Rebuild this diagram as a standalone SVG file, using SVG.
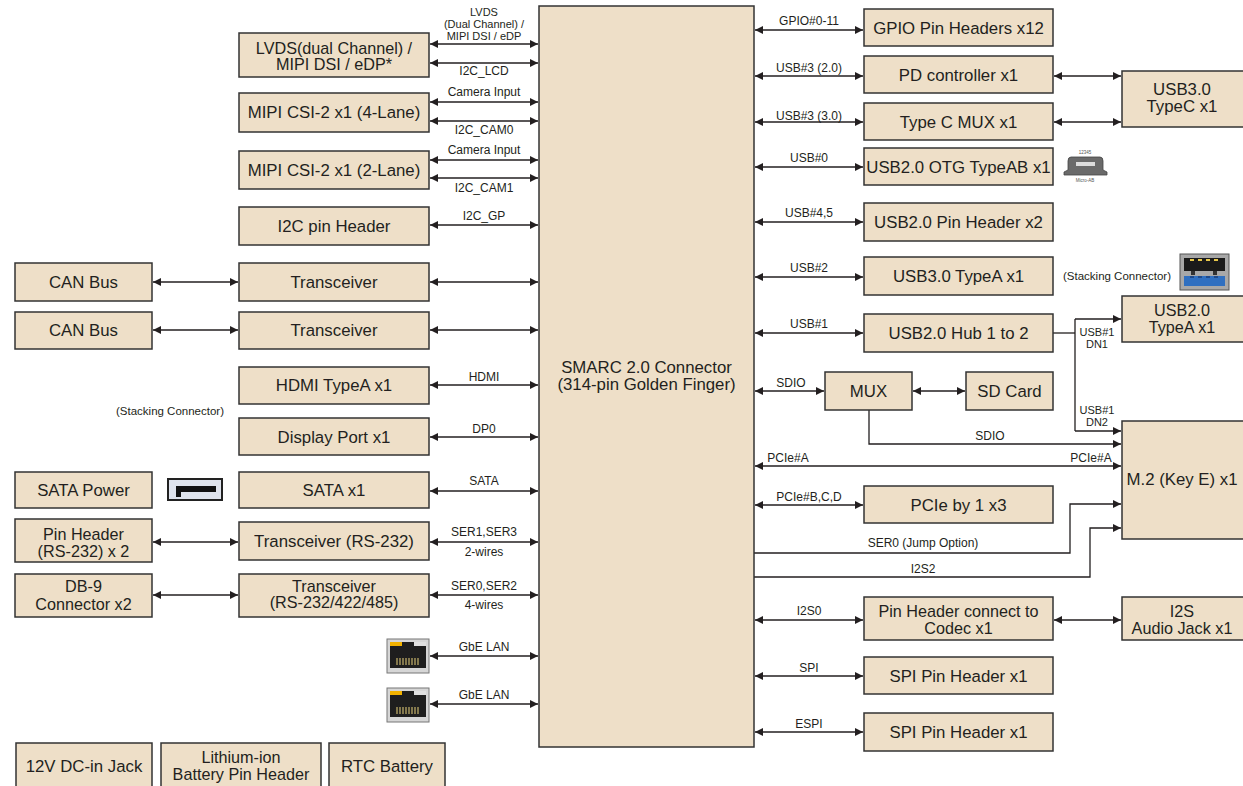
<svg xmlns="http://www.w3.org/2000/svg" width="1243" height="786" viewBox="0 0 1243 786">
<style>
.box{fill:#eedfc8;stroke:#333;stroke-width:1.5}
text{font-family:"Liberation Sans",Arial,sans-serif;fill:#231f20;text-anchor:middle}
.t{font-size:16.8px}
.t2{font-size:16.2px}
.s{font-size:12px}
.s2{font-size:11px}
.c{stroke:#231f20;stroke-width:1.3;fill:none}
.bi{marker-start:url(#a);marker-end:url(#a)}
.uni{marker-end:url(#a)}
</style>
<defs>
<marker id="a" viewBox="0 0 10 10" refX="10" refY="5" markerWidth="9" markerHeight="8" markerUnits="userSpaceOnUse" orient="auto-start-reverse"><path d="M0,0 L10,5 L0,10 Z" fill="#231f20"/></marker>
<g id="rj45">
<rect x="0" y="0" width="42" height="34" fill="#d6d6d6" stroke="#777" stroke-width="1"/>
<rect x="3" y="3" width="36" height="26" fill="#1e1e1e"/>
<rect x="3" y="3" width="12" height="4" fill="#f2b200"/>
<rect x="27" y="3" width="12" height="4" fill="#e0e0e0"/>
<path d="M10,19V26M13,19V26M16,19V26M19,19V26M22,19V26M25,19V26M28,19V26M31,19V26" stroke="#e6d07a" stroke-width="1"/>
</g>
</defs>
<rect width="1243" height="786" fill="#fff"/>

<g id="connectors">
<path class="c bi" d="M430,44H538"/>
<path class="c bi" d="M430,63H538"/>
<path class="c bi" d="M430,102H538"/>
<path class="c bi" d="M430,121H538"/>
<path class="c bi" d="M430,160H538"/>
<path class="c bi" d="M430,178H538"/>
<path class="c bi" d="M430,225H538"/>
<path class="c bi" d="M153,282H238"/>
<path class="c bi" d="M430,282H538"/>
<path class="c bi" d="M153,330H238"/>
<path class="c bi" d="M430,330H538"/>
<path class="c bi" d="M430,385H538"/>
<path class="c bi" d="M430,437H538"/>
<path class="c bi" d="M430,491H538"/>
<path class="c bi" d="M153,542H238"/>
<path class="c bi" d="M430,542H538"/>
<path class="c bi" d="M153,595H238"/>
<path class="c bi" d="M430,595H538"/>
<path class="c bi" d="M430,656H538"/>
<path class="c bi" d="M430,704H538"/>

<path class="c bi" d="M755,30H863"/>
<path class="c bi" d="M755,76H863"/>
<path class="c bi" d="M755,122H863"/>
<path class="c bi" d="M755,167H863"/>
<path class="c bi" d="M755,222H863"/>
<path class="c bi" d="M755,277H863"/>
<path class="c bi" d="M755,333H863"/>
<path class="c bi" d="M755,391H824"/>
<path class="c bi" d="M913,391H965"/>
<path class="c bi" d="M1054,76H1121"/>
<path class="c bi" d="M1054,122H1121"/>
<path class="c" d="M1053,333H1075"/>
<path class="c" d="M1075,319V431"/>
<path class="c uni" d="M1075,319H1121"/>
<path class="c uni" d="M1075,431H1121"/>
<path class="c uni" d="M869,410V444H1121"/>
<path class="c bi" d="M755,466H1121"/>
<path class="c bi" d="M755,505H863"/>
<path class="c uni" d="M754,553H1070V504H1121"/>
<path class="c uni" d="M754,577H1090V528H1121"/>
<path class="c bi" d="M755,620H863"/>
<path class="c bi" d="M1054,620H1121"/>
<path class="c bi" d="M755,676H863"/>
<path class="c bi" d="M755,732H863"/>

<text class="s s2" x="484" y="16">LVDS</text>
<text class="s s2" x="484" y="28">(Dual Channel) /</text>
<text class="s s2" x="484" y="40">MIPI DSI / eDP</text>
<text class="s" x="484" y="75">I2C_LCD</text>
<text class="s" x="484" y="96">Camera Input</text>
<text class="s" x="484" y="134">I2C_CAM0</text>
<text class="s" x="484" y="154">Camera Input</text>
<text class="s" x="484" y="192">I2C_CAM1</text>
<text class="s" x="484" y="220">I2C_GP</text>
<text class="s" x="484" y="381">HDMI</text>
<text class="s" x="484" y="433">DP0</text>
<text class="s" x="484" y="485">SATA</text>
<text class="s" x="484" y="536">SER1,SER3</text>
<text class="s" x="484" y="556">2-wires</text>
<text class="s" x="484" y="590">SER0,SER2</text>
<text class="s" x="484" y="609">4-wires</text>
<text class="s" x="484" y="651">GbE LAN</text>
<text class="s" x="484" y="699">GbE LAN</text>

<text class="s" x="809" y="25">GPIO#0-11</text>
<text class="s" x="809" y="72">USB#3 (2.0)</text>
<text class="s" x="809" y="120">USB#3 (3.0)</text>
<text class="s" x="809" y="162">USB#0</text>
<text class="s" x="809" y="217">USB#4,5</text>
<text class="s" x="809" y="272">USB#2</text>
<text class="s" x="809" y="328">USB#1</text>
<text class="s" x="791" y="387">SDIO</text>
<text class="s s2" x="1097" y="336">USB#1</text>
<text class="s s2" x="1097" y="348">DN1</text>
<text class="s s2" x="1097" y="414">USB#1</text>
<text class="s s2" x="1097" y="426">DN2</text>
<text class="s" x="990" y="440">SDIO</text>
<text class="s" x="788" y="462">PCIe#A</text>
<text class="s" x="1091" y="462">PCIe#A</text>
<text class="s" x="809" y="501">PCIe#B,C,D</text>
<text class="s" x="923" y="547">SER0 (Jump Option)</text>
<text class="s" x="923" y="573">I2S2</text>
<text class="s" x="809" y="615">I2S0</text>
<text class="s" x="809" y="672">SPI</text>
<text class="s" x="809" y="728">ESPI</text>
</g>

<g id="smarc"><rect class="box" x="539" y="6" width="215" height="741"/><text class="t" x="646.5" y="373">SMARC 2.0 Connector</text><text class="t" x="646.5" y="390">(314-pin Golden Finger)</text></g>

<g id="lvds"><rect class="box" x="239" y="33" width="190" height="44"/><text class="t t2" x="334" y="53.5">LVDS(dual Channel) /</text><text class="t t2" x="334" y="70">MIPI DSI / eDP*</text></g>
<g id="csi4"><rect class="box" x="239" y="93" width="190" height="39"/><text class="t" x="334" y="118">MIPI CSI-2 x1 (4-Lane)</text></g>
<g id="csi2"><rect class="box" x="239" y="151" width="190" height="38"/><text class="t" x="334" y="176">MIPI CSI-2 x1 (2-Lane)</text></g>
<g id="i2c"><rect class="box" x="239" y="207" width="190" height="38"/><text class="t" x="334" y="232">I2C pin Header</text></g>
<g id="trans1"><rect class="box" x="239" y="263" width="190" height="38"/><text class="t" x="334" y="288">Transceiver</text></g>
<g id="trans2"><rect class="box" x="239" y="312" width="190" height="37"/><text class="t" x="334" y="336">Transceiver</text></g>
<g id="hdmi"><rect class="box" x="239" y="367" width="190" height="37"/><text class="t" x="334" y="391">HDMI TypeA x1</text></g>
<text class="s" x="170" y="415" style="font-size:11.5px">(Stacking Connector)</text>
<g id="dp"><rect class="box" x="239" y="418" width="190" height="37"/><text class="t" x="334" y="443">Display Port x1</text></g>
<g id="sata"><rect class="box" x="239" y="472" width="190" height="36"/><text class="t" x="334" y="496">SATA x1</text></g>
<g id="rs232"><rect class="box" x="239" y="522" width="190" height="38"/><text class="t" x="334" y="547">Transceiver (RS-232)</text></g>
<g id="rs485"><rect class="box" x="239" y="574" width="190" height="43"/><text class="t t2" x="334" y="591.5">Transceiver</text><text class="t t2" x="334" y="608">(RS-232/422/485)</text></g>

<g id="can1"><rect class="box" x="15" y="263" width="137" height="38"/><text class="t" x="83.5" y="288">CAN Bus</text></g>
<g id="can2"><rect class="box" x="15" y="312" width="137" height="37"/><text class="t" x="83.5" y="336">CAN Bus</text></g>
<g id="satapower"><rect class="box" x="15" y="472" width="137" height="36"/><text class="t" x="83.5" y="496">SATA Power</text></g>
<g id="sataicon"><rect x="168" y="479" width="54" height="21" fill="#dfe3ec" stroke="#222" stroke-width="2"/><path d="M176,486H216V492H181V497H176Z" fill="#111"/></g>
<g id="pinheader"><rect class="box" x="15" y="519" width="137" height="43"/><text class="t t2" x="83.5" y="539.5">Pin Header</text><text class="t t2" x="83.5" y="557">(RS-232) x 2</text></g>
<g id="db9"><rect class="box" x="15" y="574" width="137" height="43"/><text class="t t2" x="83.5" y="591.5">DB-9</text><text class="t t2" x="83.5" y="610">Connector x2</text></g>

<g id="lan1"><use href="#rj45" x="387" y="639"/></g>
<g id="lan2"><use href="#rj45" x="387" y="688"/></g>

<g id="dcjack"><rect class="box" x="16" y="743" width="136" height="60"/><text class="t" x="84" y="772">12V DC-in Jack</text></g>
<g id="lithium"><rect class="box" x="161" y="743" width="160" height="60"/><text class="t t2" x="241" y="762.5">Lithium-ion</text><text class="t t2" x="241" y="779.5">Battery Pin Header</text></g>
<g id="rtc"><rect class="box" x="329" y="743" width="116" height="60"/><text class="t" x="387" y="772">RTC Battery</text></g>

<g id="gpio"><rect class="box" x="864" y="9" width="189" height="37"/><text class="t" x="958.5" y="34">GPIO Pin Headers x12</text></g>
<g id="pd"><rect class="box" x="864" y="56" width="189" height="37"/><text class="t" x="958.5" y="81">PD controller x1</text></g>
<g id="typecmux"><rect class="box" x="864" y="103" width="189" height="37"/><text class="t" x="958.5" y="128">Type C MUX x1</text></g>
<g id="otg"><rect class="box" x="864" y="148" width="189" height="37"/><text class="t" x="958.5" y="173">USB2.0 OTG TypeAB x1</text></g>
<g id="microab"><text x="1085" y="154" style="font-size:4.5px;fill:#555">12345</text><path d="M1071,157H1100Q1103,157 1103,161V170L1107,172V175H1064V172L1068,170V161Q1068,157 1071,157Z" fill="#6a6a6a" stroke="#444" stroke-width="0.8"/><rect x="1076" y="162" width="19" height="4" fill="#dcdcdc"/><text x="1085" y="182" style="font-size:4.5px;fill:#555">Micro-AB</text></g>
<g id="usb2pin"><rect class="box" x="864" y="203" width="189" height="38"/><text class="t" x="958.5" y="228">USB2.0 Pin Header x2</text></g>
<g id="usb3a"><rect class="box" x="864" y="257" width="189" height="38"/><text class="t" x="958.5" y="282">USB3.0 TypeA x1</text></g>
<text class="s" x="1117" y="280" style="font-size:11.5px">(Stacking Connector)</text>
<g id="usbicon"><rect x="1180" y="254" width="49" height="36" fill="#a8a8a8" stroke="#555" stroke-width="1"/><rect x="1184" y="258" width="41" height="13" fill="#1a1a1a"/><path d="M1190,260h4M1198,260h4M1206,260h4M1214,260h4" stroke="#e8c84a" stroke-width="2"/><rect x="1191" y="271" width="4" height="4" fill="#333"/><rect x="1213" y="271" width="4" height="4" fill="#333"/><rect x="1184" y="276" width="41" height="10" fill="#2f6fc0"/><path d="M1190,277h4M1198,277h4M1206,277h4M1214,277h4" stroke="#1a3f7a" stroke-width="1.5"/></g>
<g id="hub"><rect class="box" x="864" y="314" width="189" height="38"/><text class="t" x="958.5" y="339">USB2.0 Hub 1 to 2</text></g>
<g id="mux"><rect class="box" x="825" y="372" width="87" height="38"/><text class="t" x="868.5" y="397">MUX</text></g>
<g id="sdcard"><rect class="box" x="966" y="372" width="87" height="38"/><text class="t" x="1009.5" y="397">SD Card</text></g>
<g id="pcie"><rect class="box" x="864" y="486" width="189" height="37"/><text class="t" x="958.5" y="511">PCIe by 1 x3</text></g>
<g id="codec"><rect class="box" x="864" y="597" width="189" height="43"/><text class="t t2" x="958.5" y="616.5">Pin Header connect to</text><text class="t t2" x="958.5" y="633.5">Codec x1</text></g>
<g id="spi"><rect class="box" x="864" y="657" width="189" height="37"/><text class="t" x="958.5" y="682">SPI Pin Header x1</text></g>
<g id="espi"><rect class="box" x="864" y="713" width="189" height="38"/><text class="t" x="958.5" y="738">SPI Pin Header x1</text></g>

<g id="typec"><rect class="box" x="1122" y="71" width="130" height="56"/><text class="t" x="1182" y="95">USB3.0</text><text class="t" x="1182" y="112">TypeC x1</text></g>
<g id="usb2a"><rect class="box" x="1122" y="296" width="130" height="46"/><text class="t t2" x="1182" y="315.5">USB2.0</text><text class="t t2" x="1182" y="332.5">TypeA x1</text></g>
<g id="m2"><rect class="box" x="1122" y="421" width="130" height="118"/><text class="t" x="1182" y="485">M.2 (Key E) x1</text></g>
<g id="i2sjack"><rect class="box" x="1122" y="597" width="130" height="43"/><text class="t t2" x="1182" y="616.5">I2S</text><text class="t t2" x="1182" y="633.5">Audio Jack x1</text></g>
</svg>
